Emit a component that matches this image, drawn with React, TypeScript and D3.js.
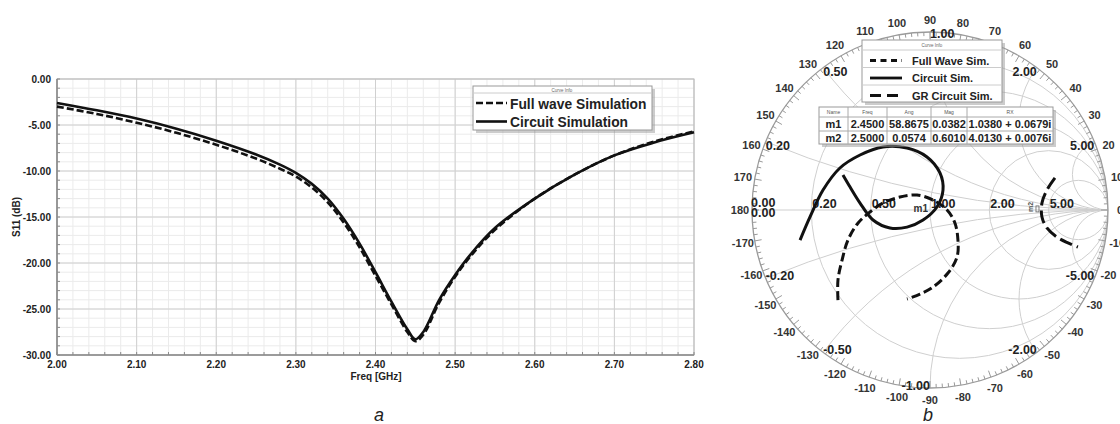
import React, { useEffect, useRef } from 'react'
import * as d3 from 'd3'

// ---- panel a : S11 vs frequency ----
const freqGHz = [2.00, 2.05, 2.10, 2.15, 2.20, 2.25, 2.28, 2.30, 2.32, 2.34, 2.36, 2.38, 2.40, 2.42, 2.44, 2.45, 2.46, 2.48, 2.50, 2.52, 2.55, 2.60, 2.65, 2.70, 2.75, 2.80]
const circuitDb = [-2.6, -3.4, -4.3, -5.4, -6.7, -8.2, -9.3, -10.2, -11.4, -13.0, -15.2, -17.9, -21.0, -24.2, -27.2, -28.3, -27.5, -24.0, -21.3, -19.0, -16.2, -13.0, -10.4, -8.3, -6.9, -5.8]
const fullWaveDb = [-3.0, -3.8, -4.75, -5.85, -7.15, -8.65, -9.75, -10.6, -11.8, -13.4, -15.6, -18.3, -21.4, -24.5, -27.5, -28.5, -27.8, -24.3, -21.5, -19.2, -16.4, -13.0, -10.4, -8.3, -6.8, -5.7]
const xTickLabels = ['2.00', '2.10', '2.20', '2.30', '2.40', '2.50', '2.60', '2.70', '2.80']
const yTickLabels = ['0.00', '-5.00', '-10.00', '-15.00', '-20.00', '-25.00', '-30.00']
const legendA = ['Full wave Simulation', 'Circuit Simulation']

// ---- panel b : Smith chart (reflection coefficient re / im) ----
const fullWaveRe = [-0.517, -0.517, -0.494, -0.461, -0.404, -0.337, -0.264, -0.169, -0.073, 0.017, 0.096, 0.140, 0.157, 0.152, 0.101, 0.017, -0.056, -0.129]
const fullWaveIm = [-0.506, -0.393, -0.281, -0.169, -0.073, -0.011, 0.039, 0.073, 0.084, 0.056, 0.0, -0.073, -0.169, -0.264, -0.354, -0.433, -0.472, -0.500]
const circuitRe = [-0.730, -0.674, -0.601, -0.506, -0.393, -0.264, -0.129, -0.017, 0.056, 0.073, 0.039, -0.039, -0.129, -0.225, -0.320, -0.393, -0.449, -0.489]
const circuitIm = [-0.169, -0.039, 0.112, 0.236, 0.309, 0.354, 0.348, 0.298, 0.208, 0.112, 0.017, -0.056, -0.096, -0.101, -0.056, 0.039, 0.129, 0.197]
const grRe = [0.702, 0.657, 0.629, 0.629, 0.657, 0.713, 0.775, 0.831]
const grIm = [0.180, 0.112, 0.039, -0.039, -0.101, -0.152, -0.185, -0.208]
const resistances = [0.2, 0.5, 1, 2, 5]
const reactances = [0.2, 0.5, 1, 2, 5]
const legendB = ['Full Wave Sim.', 'Circuit Sim.', 'GR Circuit Sim.']
const tableHead = ['Name', 'Freq', 'Ang', 'Mag', 'RX']
const markerRows = [
    ['m1', '2.4500', '58.8675', '0.0382', '1.0380 + 0.0679i'],
    ['m2', '2.5000', '0.0574', '0.6010', '4.0130 + 0.0076i'],
]

const FONT = '"Liberation Sans", Arial, sans-serif'

function App() {
    const ref = useRef<SVGSVGElement>(null)

    useEffect(() => {
        draw()
    }, [])

    const draw = () => {
        const svg = d3.select(ref.current)
        svg.selectAll('*').remove()
        svg.style('font-family', FONT)

        // ================= panel a =================
        const x = d3.scaleLinear().domain([2.0, 2.8]).range([57, 694])
        const y = d3.scaleLinear().domain([-30, 0]).range([355, 79])
        const a = svg.append('g')

        a.append('g').selectAll('line').data(x.ticks(40)).join('line')
            .attr('x1', d => x(d)).attr('x2', d => x(d)).attr('y1', y(0)).attr('y2', y(-30))
            .attr('stroke', '#ebebeb')
        a.append('g').selectAll('line').data(y.ticks(30)).join('line')
            .attr('y1', d => y(d)).attr('y2', d => y(d)).attr('x1', x(2)).attr('x2', x(2.8))
            .attr('stroke', '#ebebeb')
        a.append('g').selectAll('line').data(x.ticks(8)).join('line')
            .attr('x1', d => x(d)).attr('x2', d => x(d)).attr('y1', y(0)).attr('y2', y(-30))
            .attr('stroke', '#d0d0d0')
        a.append('g').selectAll('line').data(y.ticks(6)).join('line')
            .attr('y1', d => y(d)).attr('y2', d => y(d)).attr('x1', x(2)).attr('x2', x(2.8))
            .attr('stroke', '#d0d0d0')
        // border
        a.append('rect')
            .attr('x', x(2)).attr('y', y(0)).attr('width', x(2.8) - x(2)).attr('height', y(-30) - y(0))
            .attr('fill', 'none').attr('stroke', '#bdbdbd')
        // axes
        a.append('line').attr('x1', x(2)).attr('x2', x(2)).attr('y1', y(0)).attr('y2', y(-30))
            .attr('stroke', '#8a8a8a').attr('stroke-width', 1.6)
        a.append('line').attr('x1', x(2)).attr('x2', x(2.8)).attr('y1', y(-30)).attr('y2', y(-30))
            .attr('stroke', '#8a8a8a').attr('stroke-width', 1.6)
        a.append('g').selectAll('line').data(y.ticks(30)).join('line')
            .attr('x1', x(2)).attr('x2', x(2) + 3).attr('y1', d => y(d)).attr('y2', d => y(d))
            .attr('stroke', '#8a8a8a')
        a.append('g').selectAll('line').data(x.ticks(40)).join('line')
            .attr('x1', d => x(d)).attr('x2', d => x(d)).attr('y1', y(-30)).attr('y2', y(-30) - 3)
            .attr('stroke', '#8a8a8a')

        a.append('g').selectAll('text').data(yTickLabels).join('text')
            .attr('x', 51).attr('y', d => y(+d)).attr('dy', '0.35em')
            .attr('text-anchor', 'end').attr('font-size', 10).attr('font-weight', 'bold').attr('fill', '#222')
            .text(d => d)
        a.append('g').selectAll('text').data(xTickLabels).join('text')
            .attr('x', d => x(+d)).attr('y', 368)
            .attr('text-anchor', 'middle').attr('font-size', 10).attr('font-weight', 'bold').attr('fill', '#222')
            .text(d => d)
        a.append('text').attr('x', 376).attr('y', 380).attr('text-anchor', 'middle')
            .attr('font-size', 10).attr('font-weight', 'bold').attr('fill', '#222').text('Freq [GHz]')
        a.append('text').attr('transform', `translate(20,${(y(0) + y(-30)) / 2}) rotate(-90)`)
            .attr('text-anchor', 'middle')
            .attr('font-size', 10).attr('font-weight', 'bold').attr('fill', '#222').text('S11 (dB)')

        const lineA = d3.line<number>()
            .x((d, i) => x(freqGHz[i]))
            .y(d => y(d))
            .curve(d3.curveCatmullRom)
        a.append('path').datum(fullWaveDb)
            .attr('fill', 'none').attr('stroke', '#111').attr('stroke-width', 2.6)
            .attr('stroke-dasharray', '7,3').attr('d', lineA)
        a.append('path').datum(circuitDb)
            .attr('fill', 'none').attr('stroke', '#111').attr('stroke-width', 2.6)
            .attr('d', lineA)

        // legend a
        const la = a.append('g')
        la.append('rect').attr('x', 476).attr('y', 89).attr('width', 179).attr('height', 44).attr('fill', '#9a9a9a').attr('opacity', 0.5)
        la.append('rect').attr('x', 473).attr('y', 86).attr('width', 179).attr('height', 44).attr('fill', '#fff').attr('stroke', '#999')
        la.append('line').attr('x1', 473).attr('x2', 652).attr('y1', 93).attr('y2', 93).attr('stroke', '#ccc')
        la.append('text').attr('x', 562).attr('y', 91.5).attr('text-anchor', 'middle').attr('font-size', 4.5).attr('fill', '#666').text('Curve Info')
        legendA.forEach((name, i) => {
            const yy = 103 + i * 18.5
            la.append('line').attr('x1', 476).attr('x2', 507).attr('y1', yy).attr('y2', yy)
                .attr('stroke', '#111').attr('stroke-width', 2.6)
                .attr('stroke-dasharray', i === 0 ? '7,3' : null)
            la.append('text').attr('x', 510).attr('y', yy + 5.5)
                .attr('font-size', 13.8).attr('font-weight', 'bold').attr('fill', '#222').text(name)
        })

        svg.append('text').attr('x', 379).attr('y', 421).attr('text-anchor', 'middle')
            .attr('font-size', 18).attr('font-style', 'italic').attr('fill', '#222').text('a')

        // ================= panel b =================
        const cx = 930, cy = 210, R = 178
        const sx = d3.scaleLinear().domain([-1, 1]).range([cx - R, cx + R])
        const sy = d3.scaleLinear().domain([-1, 1]).range([cy + R, cy - R])
        const sr = (v: number) => sx(v) - sx(0)
        const b = svg.append('g')

        svg.append('defs').append('clipPath').attr('id', 'unitDisk')
            .append('circle').attr('cx', cx).attr('cy', cy).attr('r', R)

        const grid = b.append('g').attr('clip-path', 'url(#unitDisk)')
            .attr('fill', 'none').attr('stroke', '#cfcfcf').attr('stroke-width', 1)
        grid.append('line').attr('x1', sx(-1)).attr('x2', sx(1)).attr('y1', sy(0)).attr('y2', sy(0))
        grid.selectAll('circle.r').data(resistances).join('circle').attr('class', 'r')
            .attr('cx', r => sx(r / (1 + r))).attr('cy', sy(0)).attr('r', r => sr(1 / (1 + r)))
        grid.selectAll('circle.xp').data(reactances).join('circle').attr('class', 'xp')
            .attr('cx', sx(1)).attr('cy', v => sy(1 / v)).attr('r', v => sr(1 / v))
        grid.selectAll('circle.xn').data(reactances).join('circle').attr('class', 'xn')
            .attr('cx', sx(1)).attr('cy', v => sy(-1 / v)).attr('r', v => sr(1 / v))

        // rim + ticks
        b.append('circle').attr('cx', cx).attr('cy', cy).attr('r', R)
            .attr('fill', 'none').attr('stroke', '#9a9a9a').attr('stroke-width', 1.3)
        b.append('g').selectAll('line').data(d3.range(-180, 180, 2)).join('line')
            .each(function (deg) {
                const t = deg * Math.PI / 180
                const len = deg % 10 === 0 ? 7 : 4
                d3.select(this)
                    .attr('x1', cx + R * Math.cos(t)).attr('y1', cy - R * Math.sin(t))
                    .attr('x2', cx + (R - len) * Math.cos(t)).attr('y2', cy - (R - len) * Math.sin(t))
            })
            .attr('stroke', '#9a9a9a').attr('stroke-width', 1)
        b.append('g').selectAll('text').data(d3.range(-170, 190, 10)).join('text')
            .attr('x', d => cx + (R + 12) * Math.cos(d * Math.PI / 180))
            .attr('y', d => cy - (R + 12) * Math.sin(d * Math.PI / 180))
            .attr('dy', '0.35em').attr('text-anchor', 'middle')
            .attr('font-size', 11).attr('font-weight', 'bold').attr('fill', '#333')
            .text(d => String(d))

        // reactance labels on rim
        const rimPoint = (xv: number) => {
            const den = xv * xv + 1
            return [sx((xv * xv - 1) / den), sy((2 * xv) / den)]
        }
        const rl = b.append('g').attr('font-size', 12.5).attr('font-weight', 'bold').attr('fill', '#222')
        reactances.forEach(v => {
            const [px, py] = rimPoint(v)
            rl.append('text').attr('x', px).attr('y', py + (v === 1 ? 6 : 8))
                .attr('text-anchor', v <= 1 ? 'start' : 'end').text(v.toFixed(2))
            const [nx, ny] = rimPoint(-v)
            rl.append('text').attr('x', nx).attr('y', ny + 2)
                .attr('text-anchor', v < 1 ? 'start' : 'end').text((-v).toFixed(2))
        })
        resistances.forEach(r => {
            rl.append('text').attr('x', sx((r - 1) / (r + 1)) + 1).attr('y', sy(0) - 2).text(r.toFixed(2))
        })
        rl.append('text').attr('x', sx(-1) - 1).attr('y', sy(0) - 3).text('0.00')
        rl.append('text').attr('x', sx(-1) - 1).attr('y', sy(0) + 7).text('0.00')

        // traces
        const smithLine = d3.line<[number, number]>()
            .x(d => sx(d[0])).y(d => sy(d[1]))
            .curve(d3.curveCatmullRom)
        b.append('path').datum(fullWaveRe.map((v, i) => [v, fullWaveIm[i]] as [number, number]))
            .attr('fill', 'none').attr('stroke', '#111').attr('stroke-width', 3)
            .attr('stroke-dasharray', '9,4').attr('d', smithLine)
        b.append('path').datum(circuitRe.map((v, i) => [v, circuitIm[i]] as [number, number]))
            .attr('fill', 'none').attr('stroke', '#111').attr('stroke-width', 3)
            .attr('d', smithLine)
        b.append('path').datum(grRe.map((v, i) => [v, grIm[i]] as [number, number]))
            .attr('fill', 'none').attr('stroke', '#111').attr('stroke-width', 3)
            .attr('stroke-dasharray', '13,5').attr('d', smithLine)

        // markers
        const markerPos = markerRows.map(row => {
            const mag = +row[3], ang = +row[2] * Math.PI / 180
            return [sx(mag * Math.cos(ang)), sy(mag * Math.sin(ang))]
        })
        b.append('text').attr('x', markerPos[0][0] - 20).attr('y', markerPos[0][1] + 8)
            .attr('font-size', 10).attr('font-weight', 'bold').attr('fill', '#333').text(markerRows[0][0])
        b.append('rect').attr('x', markerPos[1][0] - 1).attr('y', markerPos[1][1] - 4)
            .attr('width', 3).attr('height', 6).attr('fill', 'none').attr('stroke', '#666').attr('stroke-width', 0.8)
        b.append('text').attr('transform', `translate(${markerPos[1][0] - 4},${markerPos[1][1] - 3}) rotate(-90)`)
            .attr('text-anchor', 'middle')
            .attr('font-size', 7).attr('font-weight', 'bold').attr('fill', '#555').text(markerRows[1][0])

        // legend b
        const lb = b.append('g')
        lb.append('rect').attr('x', 865).attr('y', 43).attr('width', 140).attr('height', 62).attr('fill', '#9a9a9a').attr('opacity', 0.5)
        lb.append('rect').attr('x', 862).attr('y', 40).attr('width', 140).attr('height', 62).attr('fill', '#fff').attr('stroke', '#999')
        lb.append('text').attr('x', 932).attr('y', 47).attr('text-anchor', 'middle').attr('font-size', 4.5).attr('fill', '#666').text('Curve Info')
        legendB.forEach((name, i) => {
            const top = 50 + i * 17.5
            lb.append('line').attr('x1', 862).attr('x2', 1002).attr('y1', top).attr('y2', top).attr('stroke', '#ccc')
            const yy = top + 10.5
            lb.append('line').attr('x1', 870).attr('x2', 902).attr('y1', yy).attr('y2', yy)
                .attr('stroke', '#111').attr('stroke-width', 2.8)
                .attr('stroke-dasharray', i === 0 ? '6,4.5' : i === 2 ? '11,6' : null)
            lb.append('text').attr('x', 912).attr('y', yy + 4)
                .attr('font-size', 11).attr('font-weight', 'bold').attr('fill', '#222').text(name)
        })

        // marker table
        const cols = [819, 848, 887, 931, 967, 1053]
        const tb = b.append('g')
        tb.append('rect').attr('x', 822).attr('y', 110).attr('width', 234).attr('height', 37).attr('fill', '#9a9a9a').attr('opacity', 0.5)
        tb.append('rect').attr('x', 819).attr('y', 107).attr('width', 234).attr('height', 37).attr('fill', '#fff').attr('stroke', '#999')
        cols.slice(1, -1).forEach(cxl => {
            tb.append('line').attr('x1', cxl).attr('x2', cxl).attr('y1', 107).attr('y2', 144).attr('stroke', '#aaa')
        })
        tb.append('line').attr('x1', 819).attr('x2', 1053).attr('y1', 117).attr('y2', 117).attr('stroke', '#aaa')
        tb.append('line').attr('x1', 819).attr('x2', 1053).attr('y1', 131).attr('y2', 131).attr('stroke', '#aaa')
        tableHead.forEach((h, i) => {
            tb.append('text').attr('x', (cols[i] + cols[i + 1]) / 2).attr('y', 114)
                .attr('text-anchor', 'middle').attr('font-size', 5).attr('fill', '#555').text(h)
        })
        markerRows.forEach((row, r) => {
            row.forEach((cell, i) => {
                tb.append('text').attr('x', (cols[i] + cols[i + 1]) / 2).attr('y', 128 + r * 13.5)
                    .attr('text-anchor', 'middle').attr('font-size', 11).attr('font-weight', 'bold')
                    .attr('fill', '#222').text(cell)
            })
        })

        svg.append('text').attr('x', 928).attr('y', 421).attr('text-anchor', 'middle')
            .attr('font-size', 18).attr('font-style', 'italic').attr('fill', '#222').text('b')
    }

    return (
        <svg ref={ref} width={1120} height={424}
            style={{ position: 'absolute', left: 0, top: 0, background: '#fff' }} />
    )
}

export default App
